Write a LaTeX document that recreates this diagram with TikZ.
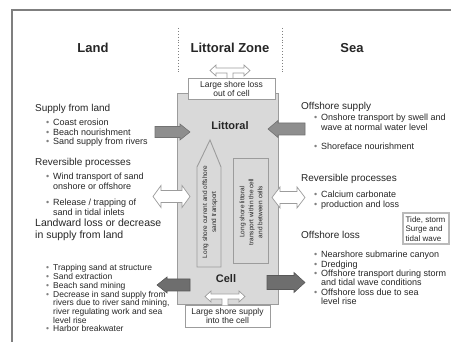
\documentclass[tikz,border=0pt]{standalone}
\usepackage{fontspec}
\setmainfont{Liberation Sans}
\definecolor{cellfill}{HTML}{D9D9D9}
\definecolor{celldraw}{HTML}{9C9C9C}
\definecolor{arrA}{HTML}{8E8E8E}
\definecolor{arrB}{HTML}{6E6E6E}
\definecolor{txt}{HTML}{262626}
\definecolor{framec}{HTML}{7F7F7F}
\newcommand\bul{\textcolor{gray}{\textbullet}}
% style, xtail, xtip, yc, headhalf, shafthalf, signed headlength
\newcommand\BArrow[7]{%
  \draw[#1] (#2,{#4-#6}) -- ({#3-#7},{#4-#6}) -- ({#3-#7},{#4-#5}) -- (#3,#4)
    -- ({#3-#7},{#4+#5}) -- ({#3-#7},{#4+#6}) -- (#2,{#4+#6}) -- cycle;}
% style, xleft, xright, yc, headhalf, shafthalf, headlength
\newcommand\DArrow[7]{%
  \draw[#1] (#2,#4) -- ({#2+#7},{#4-#5}) -- ({#2+#7},{#4-#6}) -- ({#3-#7},{#4-#6})
    -- ({#3-#7},{#4-#5}) -- (#3,#4) -- ({#3-#7},{#4+#5}) -- ({#3-#7},{#4+#6})
    -- ({#2+#7},{#4+#6}) -- ({#2+#7},{#4+#5}) -- cycle;}
\begin{document}
\begin{tikzpicture}[x=1pt,y=-1pt,
  every node/.style={inner sep=0pt, text=txt},
  hd/.style={font=\fontsize{13}{15}\selectfont\bfseries},
  sec/.style={font=\fontsize{10}{12}\selectfont, anchor=base west, align=left},
  lst/.style={font=\fontsize{9}{9.5}\selectfont, anchor=base west},
  lstS/.style={font=\fontsize{8.5}{8.5}\selectfont, anchor=base west},
  whitebox/.style={draw=celldraw, fill=white, line width=0.8pt, align=center, font=\fontsize{8.5}{9}\selectfont},
  celllbl/.style={font=\fontsize{11}{13}\selectfont\bfseries},
  rottxt/.style={font=\fontsize{6.5}{9}\selectfont, align=center, rotate=90},
  cellshape/.style={fill=cellfill, draw=celldraw, line width=0.9pt},
  arrowA/.style={fill=arrA, draw=arrA!80!black, line width=0.6pt},
  arrowB/.style={fill=arrB, draw=arrB!80!black, line width=0.6pt},
  arrowW/.style={fill=white, draw=celldraw, line width=0.7pt},
  sep/.style={draw=gray, dotted, line width=0.9pt}]
\useasboundingbox (0,0) rectangle (451,342);
\fill[white] (0,0) rectangle (451,342);
\draw[framec, line width=2pt] (12,343) -- (12,10) -- (452,10);

% headings
\node[hd] (land) at (93,48) {Land};
\node[hd] (zone) at (230,48) {Littoral Zone};
\node[hd] (sea) at (352,48) {Sea};
\draw[sep] (178,28) -- (178,73);
\draw[sep] (282,28) -- (282,72);

% cell
\draw[cellshape] (177,93) rectangle (278,304);
\draw[cellshape] (210,140) -- (221,167) -- (221,267) -- (197,267) -- (197,167) -- cycle;
\draw[cellshape] (233,158) rectangle (268,263);
\node[rottxt] (alongtxt) at (210,212) {Long shore current and offshore\\sand transport};
\node[rottxt] (recttxt) at (251,212) {Long shore littoral\\transport within the cell\\and between cells};
\node[celllbl] (littoral) at (230,126) {Littoral};
\node[celllbl] (cell) at (226,279) {Cell};

% top and bottom boxes
\node[whitebox, minimum width=87pt, minimum height=21pt] (loss) at (231.5,88.5) {Large shore loss\\out of cell};
\node[whitebox, minimum width=85pt, minimum height=22pt] (supply) at (227.5,316) {Large shore supply\\into the cell};
\draw[arrowW] (227,78) -- (227,73) -- (216,73) -- (216,76) -- (210,70.5) -- (216,65) -- (216,68)
  -- (244,68) -- (244,65) -- (250,70.5) -- (244,76) -- (244,73) -- (233,73) -- (233,78);
\draw[arrowW] (222,305.5) -- (222,299) -- (211,299) -- (211,302) -- (205,296.5) -- (211,291) -- (211,294)
  -- (239,294) -- (239,291) -- (245,296.5) -- (239,302) -- (239,299) -- (228,299) -- (228,305.5);

% block arrows
\BArrow{arrowA}{155}{190}{132}{8}{5.5}{10}
\BArrow{arrowA}{305}{268}{129}{8.5}{6}{-10}
\BArrow{arrowB}{190}{157}{285}{8}{6}{-10}
\BArrow{arrowB}{267}{305}{282.5}{10}{7}{11}
\DArrow{arrowW}{153}{190}{196.5}{11}{6}{8}
\DArrow{arrowW}{272}{305}{197.5}{10.5}{6}{8}

% left texts
\node[sec] (sl) at (35,111.5) {Supply from land};
\node[lst] (sllist) at (46,126) {\begin{tabular}[t]{@{}p{7pt}@{}l@{}}
\bul & Coast erosion\\ \bul & Beach nourishment\\ \bul & Sand supply from rivers\end{tabular}};
\node[sec] (rl) at (35,165.5) {Reversible processes};
\node[lst] (rllist) at (46,180) {\begin{tabular}[t]{@{}p{7pt}@{}l@{}}
\bul & Wind transport of sand\\ & onshore or offshore\\[7pt]
\bul & Release / trapping of\\ & sand in tidal inlets\end{tabular}};
\node[sec, font=\fontsize{10.5}{12}\selectfont] (ll) at (35,238.5) {Landward loss or decrease\\in supply from land};
\node[lstS] (lllist) at (46,271) {\begin{tabular}[t]{@{}p{7pt}@{}l@{}}
\bul & Trapping sand at structure\\ \bul & Sand extraction\\ \bul & Beach sand mining\\
\bul & Decrease in sand supply from\\ & rivers due to river sand mining,\\
 & river regulating work and sea\\ & level rise\\ \bul & Harbor breakwater\end{tabular}};

% right texts
\node[sec] (os) at (301,109.5) {Offshore supply};
\node[lst] (oslist) at (314,121) {\begin{tabular}[t]{@{}p{7pt}@{}l@{}}
\bul & Onshore transport by swell and\\ & wave at normal water level\\[9.5pt]
\bul & Shoreface nourishment\end{tabular}};
\node[sec] (rr) at (301,181.5) {Reversible processes};
\node[lst] (rrlist) at (314,198) {\begin{tabular}[t]{@{}p{7pt}@{}l@{}}
\bul & Calcium carbonate\\ \bul & production and loss\end{tabular}};
\node[sec] (ol) at (301,238.5) {Offshore loss};
\node[lst, font=\fontsize{9}{9.2}\selectfont] (ollist) at (314,258) {\begin{tabular}[t]{@{}p{7pt}@{}l@{}}
\bul & Nearshore submarine canyon\\ \bul & Dredging\\
\bul & Offshore transport during storm\\ & and tidal wave conditions\\
\bul & Offshore loss due to sea\\ & level rise\end{tabular}};
\node[draw=celldraw!70, line width=2pt, minimum width=46pt, minimum height=31pt,
  align=left, font=\fontsize{8}{9.5}\selectfont] (tide) at (425.5,229) {Tide, storm\\Surge and\\tidal wave};
\end{tikzpicture}
\end{document}
